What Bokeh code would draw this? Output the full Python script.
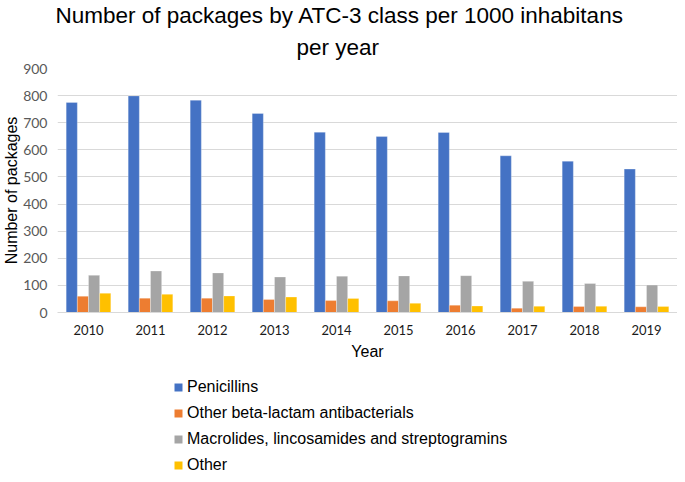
from bokeh.plotting import figure
from bokeh.models import Legend, LegendItem, Title, FixedTicker
from bokeh.layouts import column
from bokeh.transform import dodge
from bokeh.embed import file_html
from bokeh.resources import INLINE

years = ["2010", "2011", "2012", "2013", "2014", "2015", "2016", "2017", "2018", "2019"]
penicillins = [775, 799, 783, 734, 665, 649, 664, 578, 558, 529]
other_beta_lactam = [60, 53, 53, 48, 44, 43, 27, 16, 22, 21]
macrolides = [137, 153, 146, 131, 134, 135, 136, 115, 107, 101]
other = [71, 67, 61, 57, 52, 34, 24, 23, 23, 22]
series_names = ["Penicillins", "Other beta-lactam antibacterials",
                "Macrolides, lincosamides and streptogramins", "Other"]
series_values = [penicillins, other_beta_lactam, macrolides, other]
colors = ["#4472C4", "#ED7D31", "#A5A5A5", "#FFC000"]
y_ticks = [0, 100, 200, 300, 400, 500, 600, 700, 800, 900]

font = "Liberation Sans"

p = figure(x_range=years, y_range=(0, 900), frame_width=620, frame_height=244,
           output_backend="svg", toolbar_location=None,
           min_border_left=0, min_border_right=0, min_border_top=0, min_border_bottom=0)
p.title.visible = False

offsets = [-0.27, -0.09, 0.09, 0.27]
for name, vals, col, off in zip(series_names, series_values, colors, offsets):
    data = {"year": years, "v": vals}
    p.vbar(x=dodge("year", off, range=p.x_range), top="v", width=0.18,
           source=data, fill_color=col, line_color="#ffffff", line_alpha=0.35,
           line_width=0.8)

t2 = Title(text="per year", align="left", offset=239, text_font=font,
           text_font_size="22.5px", text_font_style="normal", text_color="#000000",
           vertical_align="top", standoff=14)
t1 = Title(text="Number of packages by ATC-3 class per 1000 inhabitans", align="left",
           offset=-2, text_font=font, text_font_size="22.5px", text_font_style="normal",
           text_color="#000000", standoff=0)
p.add_layout(t2, "above")
p.add_layout(t1, "above")

p.yaxis.ticker = FixedTicker(ticks=y_ticks)
p.yaxis.axis_line_color = None
p.yaxis.major_tick_line_color = None
p.yaxis.minor_tick_line_color = None
p.yaxis.major_label_text_color = "#595959"
p.yaxis.major_label_text_font = "Lato"
p.yaxis.major_label_text_font_size = "14px"
p.yaxis.major_label_standoff = 4
p.yaxis.axis_label = "Number of packages"
p.yaxis.axis_label_text_font = font
p.yaxis.axis_label_text_font_size = "16px"
p.yaxis.axis_label_text_font_style = "normal"
p.yaxis.axis_label_text_color = "#000000"
p.yaxis.axis_label_standoff = 0

p.xaxis.axis_line_color = "#d9d9d9"
p.xaxis.major_tick_line_color = None
p.xaxis.minor_tick_line_color = None
p.xaxis.major_label_text_font = "Lato"
p.xaxis.major_label_text_font_size = "13px"
p.xaxis.major_label_text_color = "#1a1a1a"
p.xaxis.major_label_standoff = 6
p.xaxis.axis_label = "Year"
p.xaxis.axis_label_text_font = font
p.xaxis.axis_label_text_font_size = "16px"
p.xaxis.axis_label_text_font_style = "normal"
p.xaxis.axis_label_text_color = "#000000"
p.xaxis.axis_label_standoff = 5

p.xgrid.grid_line_color = None
p.ygrid.grid_line_color = "#d9d9d9"
p.ygrid.grid_line_width = 1
p.outline_line_color = None

# legend figure (holds only the legend; its anchor glyphs lie outside its ranges)
lg = figure(width=669, height=110, x_range=(0, 1), y_range=(0, 1),
            output_backend="svg", toolbar_location=None,
            min_border_left=48, min_border_right=0, min_border_top=0, min_border_bottom=0)
lg.axis.visible = False
lg.grid.visible = False
lg.outline_line_color = None
items = []
for name, col in zip(series_names, colors):
    r = lg.vbar(x=[-5], top=[-5], bottom=[-6], width=0.1, fill_color=col, line_color=None)
    items.append(LegendItem(label=name, renderers=[r]))
legend = Legend(items=items, location=(116, -2), orientation="vertical",
                glyph_width=10, glyph_height=10, label_standoff=4,
                label_text_font=font, label_text_font_size="16px",
                label_text_color="#000000", label_height=15, spacing=8,
                padding=0, margin=0, border_line_alpha=0, background_fill_alpha=0)
lg.add_layout(legend, "center")

layout = column(p, lg, spacing=0)
open("out.html", "w").write(file_html(layout, INLINE))
